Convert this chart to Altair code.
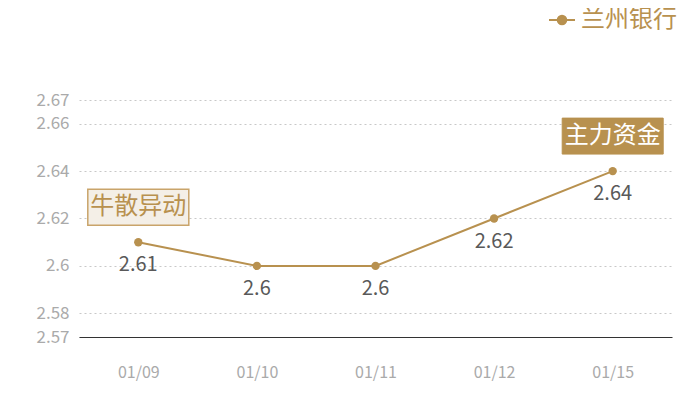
import altair as alt
import pandas as pd

dates = ["01/09", "01/10", "01/11", "01/12", "01/15"]
values = [2.61, 2.60, 2.60, 2.62, 2.64]
series_name = "兰州银行"
y_ticks = [2.57, 2.58, 2.60, 2.62, 2.64, 2.66, 2.67]
note_dates = ["01/09", "01/15"]
note_texts = ["牛散异动", "主力资金"]

GOLD = "#b8914f"
FONT = "Noto Sans CJK SC"
BOX = "M-1,-0.356L1,-0.356L1,0.356L-1,0.356Z"
LEG = "M-1,0L1,0M-0.33,0A0.33,0.33 0 1,0 0.33,0A0.33,0.33 0 1,0 -0.33,0Z"

df = pd.DataFrame({"date": dates, "value": values, "series": [series_name] * len(dates)})
df["label"] = [f"{v:g}" for v in values]
notes = pd.DataFrame({
    "date": note_dates,
    "value": [values[dates.index(d)] for d in note_dates],
    "text": note_texts,
})

x = alt.X("date:N", sort=dates, scale=alt.Scale(type="point", padding=0.5),
          axis=alt.Axis(title=None, labelAngle=0, ticks=False, grid=False,
                        domainColor="#333333", domainWidth=1,
                        labelColor="#aaaaaa", labelFont=FONT, labelFontSize=16,
                        labelPadding=27))
y = alt.Y("value:Q", scale=alt.Scale(domain=[2.57, 2.67], nice=False, zero=False),
          axis=alt.Axis(title=None, values=y_ticks, format="~g", domain=False, ticks=False,
                        grid=True, gridDash=[2, 3], gridColor="#c8c8c8",
                        labelColor="#aaaaaa", labelFont=FONT, labelFontSize=17,
                        labelPadding=10))

base = alt.Chart(df)
line = base.mark_line(color=GOLD, strokeWidth=2).encode(x=x, y=y)
pts = base.mark_circle(size=70, opacity=1).encode(
    x=x, y=y,
    color=alt.Color("series:N", scale=alt.Scale(range=[GOLD]),
                    legend=alt.Legend(title=None, orient="none", legendX=469, legendY=-94,
                                      symbolType=LEG, symbolSize=676, symbolStrokeWidth=2,
                                      symbolStrokeColor=GOLD, symbolFillColor=GOLD,
                                      labelFont=FONT, labelFontSize=24, labelColor=GOLD,
                                      labelOffset=5, labelLimit=200)))
labels = base.mark_text(dy=23, fontSize=20, color="#595959", font=FONT,
                        baseline="middle").encode(x=x, y=y, text="label:N")

nb = alt.Chart(notes)
box1 = nb.transform_filter(alt.datum.date == note_dates[0]).mark_point(
    shape=BOX, size=101 ** 2, filled=True, fill="#f4efe7", stroke="#c9a46a",
    strokeWidth=1.5, opacity=1, yOffset=-35).encode(x=x, y=y)
txt1 = nb.transform_filter(alt.datum.date == note_dates[0]).mark_text(
    fontSize=24, color=GOLD, font=FONT, baseline="middle", yOffset=-35).encode(
    x=x, y=y, text="text:N")
box2 = nb.transform_filter(alt.datum.date == note_dates[1]).mark_point(
    shape=BOX, size=101 ** 2, filled=True, fill=GOLD, stroke=GOLD,
    strokeWidth=1, opacity=1, yOffset=-35).encode(x=x, y=y)
txt2 = nb.transform_filter(alt.datum.date == note_dates[1]).mark_text(
    fontSize=24, color="#ffffff", font=FONT, baseline="middle", yOffset=-35).encode(
    x=x, y=y, text="text:N")

chart = alt.layer(line, pts, labels, box1, txt1, box2, txt2).properties(
    width=593, height=237,
    autosize=alt.AutoSizeParams(type="none"),
    padding={"left": 71, "top": 92, "right": 20, "bottom": 55},
    background="#ffffff",
).configure_view(stroke=None)

chart.save("out.html", embed_options={"renderer": "svg", "actions": False})
